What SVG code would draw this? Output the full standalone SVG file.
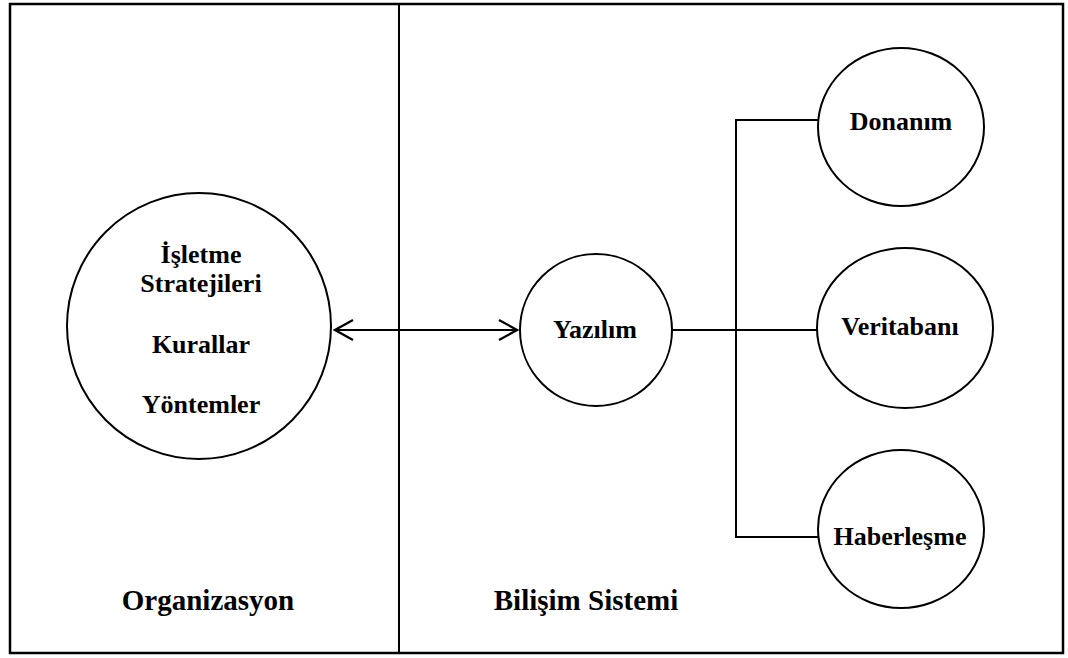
<svg xmlns="http://www.w3.org/2000/svg" width="1068" height="658" viewBox="0 0 1068 658">
  <style>
    .frame { fill: none; stroke: #000; stroke-width: 2.5; }
    .divider { fill: none; stroke: #000; stroke-width: 2; }
    .node { fill: #fff; stroke: #000; stroke-width: 2; }
    .link { fill: none; stroke: #000; stroke-width: 2; }
    .label { font-family: "Liberation Serif", "Times New Roman", serif; font-weight: 700; font-size: 26px; fill: #000; text-anchor: middle; }
    .region { font-family: "Liberation Serif", "Times New Roman", serif; font-weight: 700; font-size: 29px; fill: #000; text-anchor: middle; }
  </style>
  <defs>
    <marker id="openArrow" markerUnits="userSpaceOnUse" viewBox="-22 -12 24 24" markerWidth="24" markerHeight="24" refX="0" refY="0" orient="auto-start-reverse">
      <path d="M-18,-10 L0,0 L-18,10" fill="none" stroke="#000" stroke-width="2.2"/>
    </marker>
  </defs>

  <rect width="1068" height="658" fill="#fff"/>

  <!-- outer frame and the split between the two areas -->
  <g id="frame">
    <rect class="frame" x="10" y="4" width="1053" height="649"/>
    <line class="divider" x1="399" y1="4" x2="399" y2="653"/>
  </g>

  <!-- connectors -->
  <g id="connectors">
    <line class="link" x1="335" y1="330" x2="517" y2="330" marker-start="url(#openArrow)" marker-end="url(#openArrow)"/>
    <line class="link" x1="672" y1="330" x2="818" y2="330"/>
    <line class="link" x1="736" y1="120" x2="736" y2="537"/>
    <line class="link" x1="735" y1="120" x2="819" y2="120"/>
    <line class="link" x1="735" y1="537" x2="819" y2="537"/>
  </g>

  <g id="organizasyon-node">
    <ellipse class="node" cx="199" cy="326" rx="132" ry="133"/>
    <text class="label" x="201" y="263">İşletme</text>
    <text class="label" x="201" y="292">Stratejileri</text>
    <text class="label" x="201" y="353">Kurallar</text>
    <text class="label" x="201" y="413">Yöntemler</text>
  </g>

  <g id="yazilim">
    <ellipse class="node" cx="596" cy="330" rx="76" ry="76"/>
    <text class="label" x="595" y="338">Yazılım</text>
  </g>

  <g id="donanim">
    <ellipse class="node" cx="901" cy="127" rx="83" ry="79"/>
    <text class="label" x="901" y="130">Donanım</text>
  </g>

  <g id="veritabani">
    <ellipse class="node" cx="905" cy="328" rx="88" ry="80"/>
    <text class="label" x="900" y="335">Veritabanı</text>
  </g>

  <g id="haberlesme">
    <ellipse class="node" cx="901" cy="529" rx="83" ry="79"/>
    <text class="label" x="900" y="545">Haberleşme</text>
  </g>

  <g id="region-labels">
    <text class="region" x="208" y="610">Organizasyon</text>
    <text class="region" x="586" y="610">Bilişim Sistemi</text>
  </g>
</svg>
